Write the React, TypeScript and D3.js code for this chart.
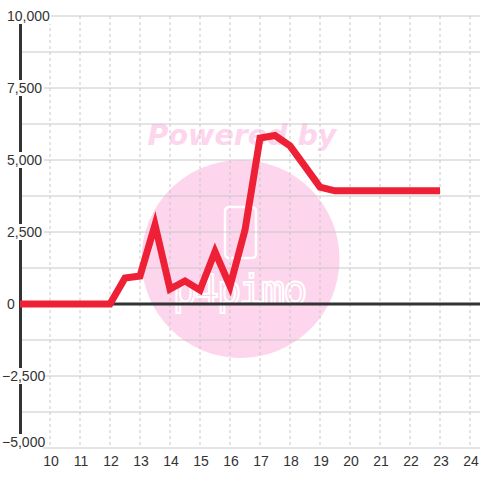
import React from "react";
import * as d3 from "d3";

const xValues = [9, 9.5, 10, 10.5, 11, 11.5, 12, 12.5, 13, 13.5, 14, 14.5, 15, 15.5, 16, 16.5, 17, 17.5, 18, 18.5, 19, 19.5, 20, 20.5, 21, 21.5, 22, 22.5, 23];
const yValues = [0, 0, 0, 0, 0, 0, 0, 900, 970, 2750, 520, 800, 480, 1820, 620, 2570, 5760, 5850, 5490, 4780, 4060, 3930, 3930, 3930, 3930, 3930, 3930, 3930, 3930];
const xTicks = [10, 11, 12, 13, 14, 15, 16, 17, 18, 19, 20, 21, 22, 23, 24];
const yTicks = [10000, 7500, 5000, 2500, 0, -2500, -5000];
const yMinorTicks = [8750, 6250, 3750, 1250, -1250, -3750];

const W = 480;
const H = 480;

export default function App() {
  const x = d3.scaleLinear().domain([9, 24]).range([20, 470]);
  const y = d3.scaleLinear().domain([-5000, 10000]).range([448, 16]);
  const fmt = d3.format(",");
  const pts: [number, number][] = xValues.map((v, i) => [v, yValues[i]]);
  const line = d3
    .line<[number, number]>()
    .x((d) => x(d[0]))
    .y((d) => y(d[1]));

  const font = "'Liberation Sans', Arial, sans-serif";

  return (
    <svg
      width={W}
      height={H}
      style={{ position: "absolute", left: 0, top: 0, background: "#fff" }}
      fontFamily={font}
    >
      <rect x={0} y={0} width={W} height={H} fill="#fff" />
      {/* watermark */}
      <g>
        <circle cx={240.5} cy={259} r={99} fill="#fdd5ec" />
        <text
          x={242}
          y={145}
          textAnchor="middle"
          fontSize={28.5}
          fontWeight="bold"
          fontStyle="italic"
          fontFamily="'DejaVu Sans', sans-serif"
          fill="#fdd5ec"
        >
          Powered by
        </text>
        <rect x={225} y={207} width={31} height={51} rx={4} fill="none" stroke="#fff" strokeWidth={2.5} />
        <text
          x={239}
          y={304}
          textAnchor="middle"
          fontSize={40}
          fontFamily="'DejaVu Sans Mono', monospace"
          fill="none"
          stroke="#fff"
          strokeWidth={2}
          letterSpacing={-2}
        >
          p4pimo
        </text>
      </g>
      {/* horizontal grid */}
      {[...yTicks, ...yMinorTicks].map((t) => (
        <line key={"h" + t} x1={20} x2={480} y1={y(t)} y2={y(t)} stroke="#c8c8c8" strokeWidth={1} />
      ))}
      {/* vertical dashed grid */}
      {xTicks.map((t) => (
        <line
          key={"v" + t}
          x1={x(t)}
          x2={x(t)}
          y1={16}
          y2={448}
          stroke="#c8c8c8"
          strokeWidth={1}
          strokeDasharray="3,3"
        />
      ))}
      {/* y axis line */}
      <line x1={20.5} x2={20.5} y1={16} y2={448} stroke="#333" strokeWidth={3} />
      {/* zero line */}
      <line x1={20} x2={480} y1={y(0)} y2={y(0)} stroke="#333" strokeWidth={3} />
      {/* data line */}
      <path
        d={line(pts) || ""}
        fill="none"
        stroke="#ee2035"
        strokeWidth={7}
        strokeLinejoin="miter"
        strokeLinecap="butt"
      />
      {/* y labels with background */}
      {yTicks.map((t) => {
        const label = fmt(t);
        const x0 = t < 0 ? 2 : 7;
        const w = label.length * 7.6 - (label.includes(",") ? 3.5 : 0) - (t < 0 ? 3 : 0);
        const base = Math.min(y(t) + 5, 447);
        return (
          <g key={"yl" + t}>
            <rect x={0} y={base - 13} width={x0 + w + 2} height={16} fill="#fff" />
            <text x={x0} y={base} fontSize={14} fill="#333">
              {label}
            </text>
          </g>
        );
      })}
      {/* x labels */}
      {xTicks.map((t) => (
        <text key={"xl" + t} x={x(t) + 1} y={466} fontSize={14} fill="#333" textAnchor="middle">
          {t}
        </text>
      ))}
    </svg>
  );
}
